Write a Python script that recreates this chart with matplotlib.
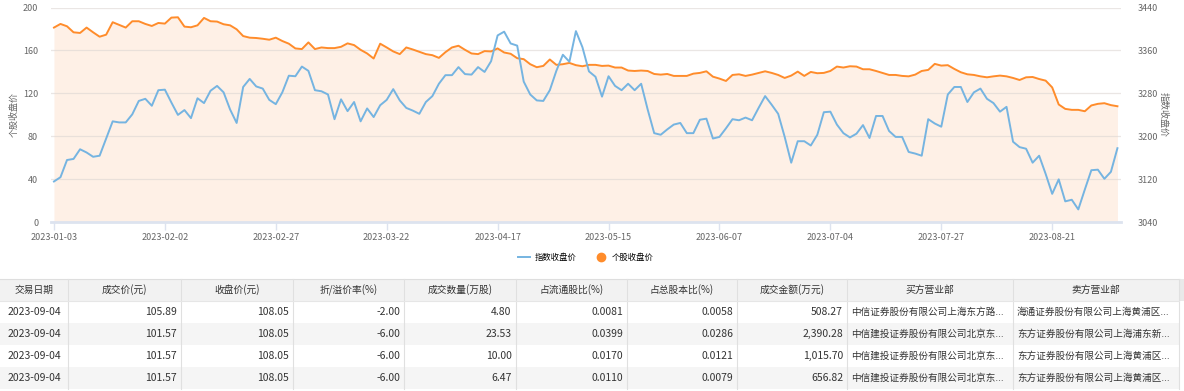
import matplotlib
matplotlib.use("Agg")
import matplotlib.pyplot as plt
from matplotlib.lines import Line2D
from matplotlib.patches import Rectangle
import pandas as pd
import numpy as np

plt.rcParams['font.family'] = ['Noto Sans CJK SC', 'DejaVu Sans']

# trading days 2023-01-03 .. 2023-09-04 (SSE calendar)
holidays = ['2023-01-23', '2023-01-24', '2023-01-25', '2023-01-26', '2023-01-27',
            '2023-04-05', '2023-05-01', '2023-05-02', '2023-05-03',
            '2023-06-22', '2023-06-23']
dates = pd.bdate_range('2023-01-03', '2023-09-04', freq='C', holidays=holidays)
date_labels = [d.strftime('%Y-%m-%d') for d in dates]

# 个股收盘价 (left axis)
stock_close = [
    181.3, 184.7, 182.5, 176.9, 176.3, 181.3, 176.9, 172.8, 174.7, 186.3,
    183.8, 181.3, 187.2, 187.2, 184.7, 182.8, 185.6, 185.0, 190.6, 190.9,
    182.2, 181.6, 183.4, 190.3, 187.2, 186.9, 184.4, 183.4, 179.7, 173.4,
    171.9, 171.6, 170.9, 170.0, 171.9, 168.8, 166.3, 161.9, 161.3, 167.5,
    161.3, 162.8, 162.2, 162.2, 163.4, 166.6, 165.0, 160.6, 157.2, 152.5,
    166.3, 162.8, 159.1, 156.6, 162.8, 160.9, 158.8, 156.6, 155.6, 153.1,
    158.4, 162.8, 164.4, 160.6, 157.2, 156.6, 159.4, 159.1, 161.9, 158.1,
    156.9, 152.8, 151.9, 147.2, 144.4, 145.6, 151.6, 146.6, 147.2, 148.4,
    146.3, 145.3, 146.6, 146.6, 145.6, 145.9, 144.1, 144.1, 141.3, 140.9,
    141.3, 140.9, 138.1, 137.5, 138.1, 136.3, 136.3, 136.3, 138.4, 139.1,
    140.6, 135.6, 133.8, 131.6, 137.2, 137.8, 136.3, 137.5, 139.1, 140.6,
    139.1, 137.2, 134.4, 136.6, 140.3, 136.3, 140.0, 138.8, 139.1, 140.9,
    145.0, 144.1, 145.3, 145.0, 142.5, 142.5, 140.9, 139.1, 137.2, 137.2,
    136.3, 135.9, 137.5, 140.9, 141.9, 147.5, 145.9, 146.3, 142.8, 139.7,
    137.8, 137.2, 135.9, 135.0, 135.9, 136.6, 135.9, 134.4, 132.5, 135.0,
    135.3, 133.4, 131.9, 125.6, 109.7, 105.6, 104.7, 104.7, 103.4, 108.8,
    110.3, 110.9, 109.1, 108.05,
]

# 指数收盘价 (right axis)
index_close = [
    3116, 3124, 3156, 3158, 3176, 3170, 3162, 3164, 3196, 3228,
    3226, 3226, 3241, 3266, 3270, 3257, 3286, 3287, 3263, 3240,
    3249, 3234, 3271, 3262, 3285, 3294, 3282, 3250, 3225, 3292,
    3307, 3293, 3289, 3268, 3260, 3282, 3313, 3312, 3330, 3322,
    3286, 3284, 3278, 3232, 3269, 3247, 3264, 3228, 3252, 3236,
    3258, 3268, 3288, 3267, 3253, 3248, 3242, 3264, 3275, 3298,
    3314, 3314, 3329, 3316, 3315, 3329, 3320, 3340, 3388, 3395,
    3373, 3369, 3302, 3278, 3267, 3266, 3286, 3322, 3352, 3339,
    3396, 3366, 3321, 3311, 3274, 3312, 3294, 3286, 3298, 3286,
    3298, 3250, 3206, 3203, 3213, 3222, 3225, 3206, 3206, 3231,
    3233, 3196, 3199, 3215, 3232, 3230, 3235, 3230, 3253, 3275,
    3259, 3242, 3199, 3151, 3191, 3191, 3183, 3203, 3245, 3246,
    3222, 3206, 3198, 3205, 3221, 3197, 3238, 3238, 3210, 3199,
    3199, 3171, 3168, 3164, 3232, 3224, 3218, 3278, 3292, 3292,
    3264, 3282, 3289, 3270, 3262, 3246, 3255, 3190, 3180, 3177,
    3151, 3164, 3130, 3093, 3120, 3079, 3082, 3064, 3101, 3137,
    3138, 3121, 3134, 3178,
]

left_ticks = [0, 40, 80, 120, 160, 200]
right_ticks = [3040, 3120, 3200, 3280, 3360, 3440]

# block trade table
col_names = ['交易日期', '成交价(元)', '收盘价(元)', '折/溢价率(%)', '成交数量(万股)',
             '占流通股比(%)', '占总股本比(%)', '成交金额(万元)', '买方营业部', '卖方营业部']
trade_date = ['2023-09-04', '2023-09-04', '2023-09-04', '2023-09-04']
deal_price = ['105.89', '101.57', '101.57', '101.57']
close_price = ['108.05', '108.05', '108.05', '108.05']
premium = ['-2.00', '-6.00', '-6.00', '-6.00']
volume = ['4.80', '23.53', '10.00', '6.47']
float_ratio = ['0.0081', '0.0399', '0.0170', '0.0110']
total_ratio = ['0.0058', '0.0286', '0.0121', '0.0079']
amount = ['508.27', '2,390.28', '1,015.70', '656.82']
buyer = ['中信证券股份有限公司上海东方路...', '中信建投证券股份有限公司北京东...',
         '中信建投证券股份有限公司北京东...', '中信建投证券股份有限公司北京东...']
seller = ['海通证券股份有限公司上海黄浦区...', '东方证券股份有限公司上海浦东新...',
          '东方证券股份有限公司上海黄浦区...', '东方证券股份有限公司上海黄浦区...']

ORANGE = '#FF8C2B'
BLUE = '#75B4E1'
FILL = '#FEF0E6'
TICK_C = '#666666'

W, H = 1184, 391
fig = plt.figure(figsize=(W / 100, H / 100), dpi=100)

x = np.arange(len(stock_close))

ax = fig.add_axes([50.7 / W, 1 - 222.3 / H, 1070 / W, 214.8 / H])
ax.fill_between(x, stock_close, 0, color=FILL, lw=0, zorder=0.5)
ax.plot(x, stock_close, color=ORANGE, lw=1.4, zorder=2)
ax.set_xlim(-0.5, len(x) - 0.5)
ax.set_ylim(0, 200)
ax.set_yticks(left_ticks)
ax.set_axisbelow('line')
ax.grid(axis='y', color='#dcd6d2', lw=0.9, alpha=0.6)
ax.set_xticks(x[::17])
ax.set_xticklabels(date_labels[::17])
ax.tick_params(axis='x', length=6, width=1, color='#dde3ef', colors=TICK_C, labelsize=6.5, pad=2)
ax.tick_params(axis='y', length=0, colors=TICK_C, labelsize=6.5, pad=9)
for s in ['top', 'right', 'left']:
    ax.spines[s].set_visible(False)
ax.spines['bottom'].set_color('#dde3ef')
ax.spines['bottom'].set_linewidth(2)
ax.set_ylabel('个股收盘价', color=TICK_C, fontsize=6.5, labelpad=3)

ax2 = ax.twinx()
ax2.plot(x, index_close, color=BLUE, lw=1.4, zorder=3)
ax2.set_ylim(3040, 3440)
ax2.set_yticks(right_ticks)
ax2.tick_params(axis='y', length=0, colors=TICK_C, labelsize=6.5, pad=12)
for s in ['top', 'right', 'left', 'bottom']:
    ax2.spines[s].set_visible(False)
ax2.set_ylabel('指数收盘价', color=TICK_C, fontsize=6.5, rotation=-90, labelpad=7)

handles = [Line2D([], [], color=BLUE, lw=1.4),
           Line2D([], [], color=ORANGE, lw=0, marker='o', markersize=6)]
fig.legend(handles, ['指数收盘价', '个股收盘价'], loc='center', ncol=2,
           bbox_to_anchor=(586 / W, 1 - 257 / H), frameon=False, fontsize=6,
           handlelength=1.4, handletextpad=0.6, columnspacing=2.2)

# table drawn in pixel coordinates
tax = fig.add_axes([0, 0, 1, 1])
tax.set_xlim(0, W)
tax.set_ylim(H, 0)
tax.axis('off')
tax.patch.set_visible(False)

col_edges = [0, 68, 181, 293, 404, 515.5, 627, 737, 847, 1013, 1179]
row_top = 279
row_h = 22
rows = list(zip(trade_date, deal_price, close_price, premium, volume,
                float_ratio, total_ratio, amount, buyer, seller))

tax.add_patch(Rectangle((0, row_top), col_edges[-1], row_h, fc='#F2F2F2', ec='none'))
tax.plot([0, col_edges[-1]], [row_top, row_top], color='#dedede', lw=0.8)
tax.add_patch(Rectangle((col_edges[-1], row_top), W - col_edges[-1], row_h, fc='#E9E9E9', ec='none'))
for i, name in enumerate(col_names):
    cx = (col_edges[i] + col_edges[i + 1]) / 2
    tax.text(cx, row_top + row_h / 2, name, ha='center', va='center',
             fontsize=7, color='#333333')

for r, row in enumerate(rows):
    y0 = row_top + row_h * (r + 1)
    fc = '#FFFFFF' if r % 2 == 0 else '#F5F5F5'
    tax.add_patch(Rectangle((0, y0), col_edges[-1], row_h, fc=fc, ec='none'))
    for i, val in enumerate(row):
        yc = y0 + row_h / 2
        if i == 0:
            tax.text((col_edges[0] + col_edges[1]) / 2, yc, val, ha='center', va='center',
                     fontsize=7.5, color='#333333')
        elif i < 8:
            tax.text(col_edges[i + 1] - 4, yc, val, ha='right', va='center',
                     fontsize=7.5, color='#333333')
        else:
            tax.text(col_edges[i] + 4, yc, val, ha='left', va='center',
                     fontsize=6.9, color='#333333')

tbl_bottom = row_top + row_h * (len(rows) + 1)
for xe in col_edges[1:]:
    tax.plot([xe, xe], [row_top, tbl_bottom], color='#e0e0e0', lw=0.8)
tax.plot([0, col_edges[-1]], [row_top + row_h, row_top + row_h], color='#e6e6e6', lw=0.8)

fig.savefig('out.png', dpi=100)
